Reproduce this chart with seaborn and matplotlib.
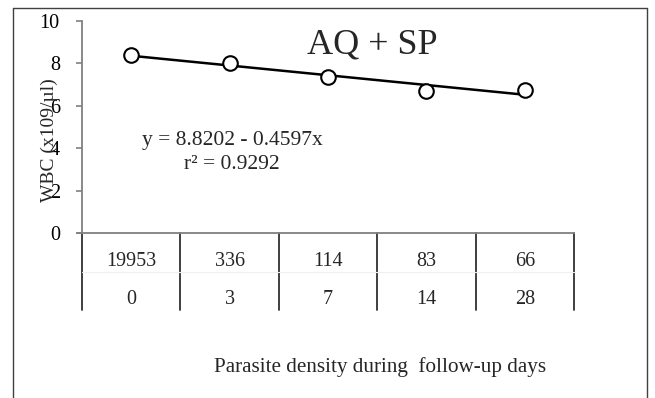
import matplotlib
matplotlib.use("Agg")
import matplotlib.pyplot as plt
import matplotlib.transforms as mtransforms
from matplotlib.lines import Line2D
import seaborn as sns
import pandas as pd
import numpy as np

# ---- data ----
categories = [1, 2, 3, 4, 5]
wbc = [8.40, 8.02, 7.36, 6.71, 6.75]
parasite_density = ["19953", "336", "114", "83", "66"]
days = ["0", "3", "7", "14", "28"]
intercept = 8.8202
slope = -0.4597
r2 = 0.9292

sns.set_theme(style="white")
plt.rcParams['font.family'] = ['Liberation Serif', 'DejaVu Serif']

fig = plt.figure(figsize=(6.55, 3.98), dpi=100)
ax = fig.add_axes([82/655, 1-233/398, (574-82)/655, (233-21)/398])

df = pd.DataFrame({"x": categories, "wbc": wbc})
trend = pd.DataFrame({"x": categories, "fit": [intercept + slope*c for c in categories]})

sns.lineplot(data=trend, x="x", y="fit", ax=ax, color="black", lw=1.8, zorder=2)
sns.scatterplot(data=df, x="x", y="wbc", ax=ax, marker="o", s=110,
                facecolor="white", edgecolor="black", linewidth=1.5, zorder=3)

ax.set_xlim(0.5, 5.5)
ax.set_ylim(0, 10)
ax.set_yticks([0, 2, 4, 6, 8, 10])
ax.set_xticks([])
ax.set_xlabel("")
ax.set_ylabel("")
for s in ["top", "right"]:
    ax.spines[s].set_visible(False)
ax.spines["left"].set_color("#808080")
ax.spines["bottom"].set_color("#808080")
ax.spines["left"].set_linewidth(1.3)
ax.spines["bottom"].set_linewidth(1.3)
ax.tick_params(axis="y", direction="out", length=4, width=1.2, color="#808080",
               pad=12, labelsize=14.5, labelcolor="black", left=True)

# extend x axis line slightly left
fig.add_artist(Line2D([77/655, 82/655], [1-233/398]*2, color="#808080", lw=1.3))

# table below axis
bt = mtransforms.blended_transform_factory(ax.transData, fig.transFigure)
for b in np.arange(0.5, 6.0, 1.0):
    ax.plot([b, b], [1-233/398, 1-310/398], transform=bt, color="#303030",
            lw=1.3, clip_on=False)
ax.plot([0.5, 5.5], [1-272/398]*2, transform=bt, color="#f0f0f0", lw=0.8, clip_on=False)
for c, p, d in zip(categories, parasite_density, days):
    ax.text(c, 1-262/398, p, transform=bt, ha="center", va="center", fontsize=14.5)
    ax.text(c, 1-300/398, d, transform=bt, ha="center", va="center", fontsize=14.5)

fig.text(380/655, 1-367/398, "Parasite density during  follow-up days",
         ha="center", va="center", fontsize=15.2)
fig.text(49/655, 1-140/398, "WBC (x109/µl)", rotation=90,
         ha="center", va="center", fontsize=14)
fig.text(372/655, 1-45/398, "AQ + SP", ha="center", va="center", fontsize=26)
fig.text(232/655, 1-141/398, f"y = {intercept} - {abs(slope)}x",
         ha="center", va="center", fontsize=15.5)
fig.text(232/655, 1-165/398, f"r² = {r2}",
         ha="center", va="center", fontsize=15.5)

# outer frame
for xs, ys in [([13/655, 13/655], [0, 1-8/398]),
               ([13/655, 647/655], [1-8/398, 1-8/398]),
               ([647/655, 647/655], [1-8/398, 0])]:
    fig.add_artist(Line2D(xs, ys, color="#404040", lw=1.0))

fig.savefig("out.png", dpi=100)
